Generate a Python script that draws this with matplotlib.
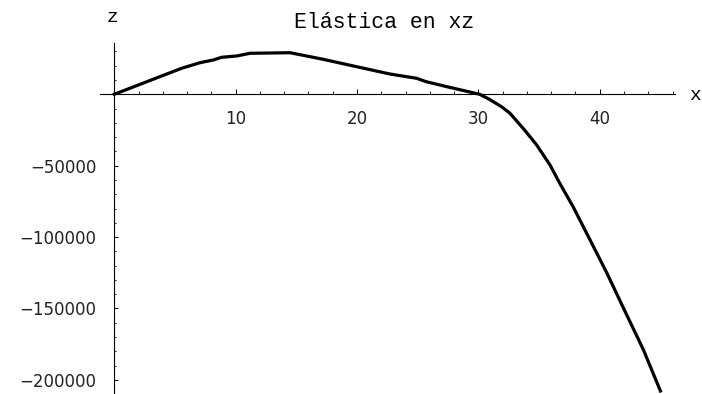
import matplotlib
matplotlib.use("Agg")
import matplotlib.pyplot as plt
import numpy as np

# curve (x, z)
x_vals = [0, 3.2, 3.9, 5.55, 7.06, 8.15, 8.85, 10.08, 11.18, 14.47, 15.85, 17.2,
          19.97, 22.7, 24.9, 25.7, 27.4, 30.1, 30.9, 31.9, 32.6, 33.8, 34.8,
          35.9, 36.7, 37.8, 39.2, 40.6, 41.9, 43.6, 45.0]
z_vals = [0, 10500, 12800, 18200, 22100, 24000, 25900, 26800, 28700, 29100, 26800, 24500,
          19300, 14200, 11200, 8800, 5300, 0, -3500, -8700, -13300, -25000, -35500,
          -49500, -62300, -78700, -102000, -125400, -148800, -179000, -207800]

x_major = [10, 20, 30, 40]
y_major = [-200000, -150000, -100000, -50000]

W, H = 702, 394
fig = plt.figure(figsize=(W / 100, H / 100), dpi=100)
ax = fig.add_axes([100 / W, 1 / H, 575 / W, 350 / H])

ax.plot(x_vals, z_vals, color="black", linewidth=2.3, solid_joinstyle="round")

ax.set_xlim(-1.18, 46.2)
ax.set_ylim(-209200, 35900)

for side in ["top", "right"]:
    ax.spines[side].set_visible(False)
ax.spines["left"].set_position(("data", 0))
ax.spines["bottom"].set_position(("data", 0))
ax.spines["left"].set_linewidth(0.8)
ax.spines["bottom"].set_linewidth(0.8)

ax.set_xticks(x_major)
ax.set_xticks([v for v in range(2, 47, 2) if v % 10 != 0], minor=True)
ax.set_yticks(y_major)
ax.set_yticks([v for v in range(-200000, 40000, 10000) if v % 50000 != 0], minor=True)
ax.set_yticklabels([str(v).replace("-", "\u2212") for v in y_major])

ax.tick_params(axis="x", which="major", direction="in", length=3.6, width=0.7, pad=11, labelsize=12)
ax.tick_params(axis="x", which="minor", direction="in", length=2, width=0.6)
ax.tick_params(axis="y", which="major", direction="in", length=2.6, width=0.7, pad=13, labelsize=12)
ax.tick_params(axis="y", which="minor", direction="in", length=1.4, width=0.6)
for lab in ax.get_xticklabels() + ax.get_yticklabels():
    lab.set_color("#222222")

mono = "Liberation Mono"
fig.text(384 / W, 1 - 23 / H, "Elástica en xz", family=mono, fontsize=15.5,
         ha="center", va="center")
fig.text(112 / W, 1 - 17 / H, "z", family=mono, fontsize=14, ha="center", va="center")
fig.text(689 / W, 1 - 95 / H, "x", family=mono, fontsize=14, ha="left", va="center")

fig.savefig("out.png", dpi=100)
